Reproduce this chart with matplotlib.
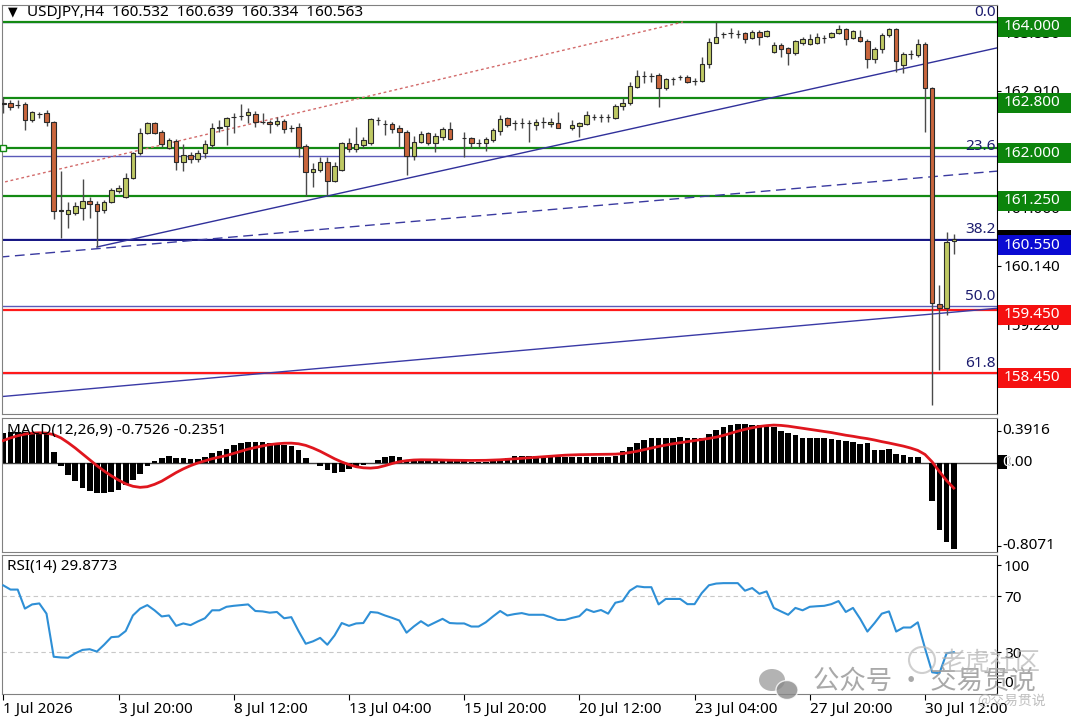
import numpy as np
import matplotlib.pyplot as plt
from matplotlib.patches import Rectangle, Ellipse

plt.rcParams['font.family'] = ['Noto Sans', 'DejaVu Sans']

nan = np.nan

# ---- price bars (USDJPY H4), one value per bar ----
opens = [162.718, 162.718, 162.690, 162.703, 162.450, 162.540, 162.560, 162.418, 161.010, 160.962,
         160.978, 161.057, 161.168, 161.120, 161.025, 161.152, 161.326, 161.231, 161.532, 161.927,
         162.244, 162.402, 162.260, 162.006, 162.117, 161.785, 161.896, 161.832, 161.927, 162.054,
         162.330, 162.355, 162.492, 162.510, 162.528, 162.544, 162.418, 162.418, 162.386, 162.434,
         162.323, 162.339, 162.038, 161.627, 161.658, 161.785, 161.484, 161.658, 162.086, 161.991,
         162.054, 162.086, 162.449, 162.386, 162.386, 162.323, 162.260, 161.880, 162.101, 162.244,
         162.086, 162.181, 162.307, nan, 162.165, 162.165, 162.086, 162.086, 162.133, 162.276,
         162.481, 162.402, 162.402, 162.402, 162.370, 162.418, 162.386, 162.402, nan, 162.323,
         162.355, 162.386, 162.497, 162.497, 162.497, 162.481, 162.671, 162.718, 162.972, 163.146,
         163.146, 163.161, 162.956, 163.098, 163.130, 163.130, 163.066, 163.066, 163.335, 163.668,
         163.810, 163.826, 163.815, 163.826, 163.747, 163.842, 163.778, 163.525, 163.636, 163.589,
         163.509, 163.668, 163.652, 163.668, 163.747, 163.763, 163.826, 163.889, 163.747, 163.763,
         163.699, 163.415, 163.573, 163.794, 163.889, 163.320, 163.494, 163.478, 163.652, 162.956,
         159.538, 159.475, 160.532]
highs = [162.813, 162.766, 162.766, 162.734, 162.592, 162.576, 162.608, 162.430, 161.643, 161.152,
         161.152, 161.516, 161.231, 161.168, 161.184, 161.373, 161.421, 161.611, 161.943, 162.323,
         162.418, 162.418, 162.291, 162.165, 162.149, 162.070, 161.943, 161.975, 162.133, 162.402,
         162.449, 162.497, 162.560, 162.703, 162.639, 162.592, 162.560, 162.449, 162.497, 162.465,
         162.370, 162.402, 162.070, 161.769, 161.864, 161.864, 161.785, 162.101, 162.165, 162.339,
         162.181, 162.481, 162.497, 162.449, 162.418, 162.370, 162.291, 162.196, 162.276, 162.260,
         162.244, 162.339, 162.418, nan, 162.260, 162.181, 162.149, 162.181, 162.323, 162.528,
         162.497, 162.449, 162.481, 162.449, 162.465, 162.497, 162.481, 162.576, nan, 162.449,
         162.418, 162.592, 162.544, 162.544, 162.544, 162.703, 162.797, 163.051, 163.241, 163.225,
         163.193, 163.193, 163.114, 163.130, 163.161, 163.161, 163.114, 163.446, 163.747, 164.000,
         163.842, 163.905, 163.873, 163.842, 163.873, 163.873, 163.873, 163.684, 163.668, 163.604,
         163.715, 163.763, 163.810, 163.826, 163.794, 163.842, 163.953, 163.905, 163.873, 163.873,
         163.731, 163.604, 163.826, 163.905, 163.905, 163.525, 163.557, 163.731, 163.684, 162.970,
         159.838, 160.677, 160.639]
lows = [162.560, 162.608, 162.640, 162.291, 162.418, 162.481, 162.355, 160.883, 160.582, 160.741,
        160.946, 160.868, 160.899, 160.440, 160.978, 161.136, 161.294, 161.215, 161.516, 161.896,
        162.228, 162.228, 162.022, 161.990, 161.658, 161.643, 161.769, 161.785, 161.848, 162.006,
        162.260, 162.054, 162.244, 162.449, 162.402, 162.339, 162.386, 162.244, 162.355, 162.244,
        162.260, 161.864, 161.247, 161.389, 161.627, 161.263, 161.468, 161.643, 161.943, 161.943,
        162.006, 162.054, 162.370, 162.212, 162.244, 162.022, 161.579, 161.816, 162.086, 162.054,
        161.943, 162.133, 162.133, nan, 161.864, 162.006, 162.022, 161.959, 162.101, 162.212,
        162.339, 162.291, 162.323, 162.101, 162.291, 162.323, 162.339, 162.318, nan, 162.291,
        162.181, 162.370, 162.449, 162.418, 162.418, 162.465, 162.608, 162.687, 162.956, 163.035,
        163.051, 162.655, 162.924, 163.003, 163.082, 163.035, 163.003, 163.051, 163.272, 163.668,
        163.747, 163.747, 163.747, 163.668, 163.731, 163.636, 163.763, 163.509, 163.446, 163.320,
        163.478, 163.636, 163.636, 163.652, 163.668, 163.747, 163.810, 163.636, 163.731, 163.684,
        163.272, 163.351, 163.509, 163.763, 163.209, 163.193, 163.415, 163.446, 162.260, 157.940,
        158.493, 159.364, 160.334]
closes = [162.703, 162.655, 162.680, 162.450, 162.576, 162.550, 162.418, 161.010, 161.020, 161.025,
          161.089, 161.168, 161.120, 161.010, 161.152, 161.342, 161.373, 161.532, 161.927, 162.244,
          162.402, 162.244, 162.070, 162.133, 161.785, 161.896, 161.832, 161.927, 162.070, 162.323,
          162.340, 162.481, 162.500, 162.516, 162.576, 162.418, 162.415, 162.386, 162.434, 162.307,
          162.325, 162.022, 161.627, 161.674, 161.785, 161.484, 161.722, 162.086, 161.991, 162.070,
          162.133, 162.465, 162.455, 162.390, 162.307, 162.260, 161.880, 162.101, 162.228, 162.086,
          162.196, 162.307, 162.149, nan, 162.160, 162.086, 162.090, 162.149, 162.291, 162.465,
          162.370, 162.400, 162.405, 162.398, 162.418, 162.420, 162.418, 162.323, nan, 162.370,
          162.402, 162.528, 162.500, 162.495, 162.500, 162.671, 162.718, 162.987, 163.146, 163.150,
          163.140, 162.956, 163.098, 163.100, 163.128, 163.051, 163.070, 163.335, 163.684, 163.763,
          163.815, 163.830, 163.810, 163.731, 163.842, 163.763, 163.858, 163.636, 163.573, 163.509,
          163.699, 163.731, 163.731, 163.763, 163.750, 163.826, 163.889, 163.731, 163.858, 163.699,
          163.415, 163.573, 163.794, 163.889, 163.383, 163.494, 163.490, 163.652, 162.956, 159.554,
          159.475, 160.519, 160.563]

# ---- MACD(12,26,9): histogram (main) and signal ----
macd_main = [0.28, 0.29, 0.29, 0.29, 0.29, 0.29, 0.28, 0.10, -0.03, -0.11,
             -0.17, -0.23, -0.26, -0.28, -0.28, -0.27, -0.25, -0.21, -0.16, -0.10,
             -0.03, 0.02, 0.045, 0.07, 0.05, 0.045, 0.035, 0.04, 0.06, 0.09,
             0.11, 0.135, 0.165, 0.185, 0.195, 0.197, 0.197, 0.19, 0.175, 0.165,
             0.158, 0.12, 0.045, 0.0, -0.03, -0.07, -0.095, -0.08, -0.06, -0.035,
             -0.02, 0.003, 0.03, 0.06, 0.07, 0.06, 0.02, 0.015, 0.015, 0.015,
             0.015, 0.015, 0.015, 0.015, 0.015, 0.012, 0.012, 0.012, 0.015, 0.02,
             0.05, 0.065, 0.07, 0.07, 0.068, 0.06, 0.055, 0.055, 0.055, 0.055,
             0.055, 0.055, 0.055, 0.055, 0.055, 0.07, 0.113, 0.152, 0.19, 0.216,
             0.235, 0.235, 0.235, 0.235, 0.242, 0.235, 0.235, 0.235, 0.274, 0.313,
             0.339, 0.355, 0.365, 0.361, 0.358, 0.355, 0.355, 0.339, 0.30, 0.281,
             0.258, 0.235, 0.235, 0.235, 0.235, 0.226, 0.216, 0.203, 0.194, 0.177,
             0.187, 0.119, 0.123, 0.129, 0.087, 0.071, 0.055, 0.055, -0.004, -0.355,
             -0.623, -0.735, -0.8071]
macd_signal = [0.21, 0.235, 0.255, 0.27, 0.28, 0.283, 0.28, 0.265, 0.235, 0.19,
               0.14, 0.085, 0.03, -0.025, -0.075, -0.12, -0.16, -0.195, -0.218, -0.228,
               -0.222, -0.2, -0.17, -0.13, -0.09, -0.055, -0.025, 0.0, 0.02, 0.04,
               0.055, 0.07, 0.09, 0.11, 0.13, 0.145, 0.16, 0.172, 0.18, 0.185,
               0.186, 0.18, 0.165, 0.14, 0.11, 0.075, 0.04, 0.01, -0.015, -0.035,
               -0.045, -0.048, -0.042, -0.025, -0.005, 0.012, 0.022, 0.028, 0.03, 0.03,
               0.029, 0.027, 0.026, 0.025, 0.024, 0.024, 0.024, 0.025, 0.027, 0.03,
               0.034, 0.039, 0.044, 0.05, 0.055, 0.06, 0.065, 0.07, 0.073, 0.076,
               0.078, 0.079, 0.08, 0.081, 0.081, 0.083, 0.088, 0.098, 0.11, 0.125,
               0.14, 0.155, 0.168, 0.18, 0.19, 0.2, 0.21, 0.22, 0.23, 0.242,
               0.258, 0.278, 0.298, 0.315, 0.33, 0.342, 0.35, 0.355, 0.352, 0.345,
               0.335, 0.325, 0.315, 0.306, 0.295, 0.285, 0.272, 0.26, 0.25, 0.238,
               0.228, 0.215, 0.2, 0.187, 0.172, 0.158, 0.14, 0.118, 0.08, 0.01,
               -0.08, -0.165, -0.2351]

# ---- RSI(14) ----
rsi = [77.6, 74.6, 74.6, 61.0, 64.0, 64.7, 57.4, 26.6, 26.1, 25.9,
       29.1, 31.5, 32.0, 30.3, 35.2, 40.6, 41.0, 45.0, 56.1, 61.0,
       63.5, 59.8, 55.4, 56.1, 48.7, 50.4, 49.2, 51.8, 54.1, 59.8,
       59.8, 62.3, 63.0, 63.5, 64.0, 59.3, 59.0, 58.1, 58.6, 54.1,
       54.9, 45.0, 35.9, 37.6, 40.1, 35.2, 41.8, 50.7, 48.7, 50.4,
       50.7, 58.6, 58.1, 56.1, 54.4, 52.5, 43.8, 48.2, 52.0, 48.7,
       51.2, 53.7, 50.7, 50.4, 50.4, 48.2, 48.2, 51.2, 55.4, 59.3,
       56.1, 57.1, 57.8, 56.6, 56.6, 56.6, 54.9, 52.9, 52.9, 54.4,
       55.6, 60.5, 58.6, 60.0, 57.4, 65.2, 66.4, 73.8, 77.0, 76.3,
       76.3, 64.0, 67.9, 67.9, 67.9, 64.2, 64.2, 72.1, 77.7, 78.9,
       79.2, 79.2, 79.2, 73.8, 75.7, 71.6, 73.3, 61.5, 59.0, 56.6,
       61.5, 59.8, 62.3, 62.7, 63.0, 64.2, 66.4, 58.6, 61.5, 53.7,
       44.6, 50.7, 57.4, 59.0, 44.6, 47.5, 47.5, 51.2, 32.7, 15.5,
       14.8, 29.1, 29.8773]

date_labels = ['1 Jul 2026', '3 Jul 20:00', '8 Jul 12:00', '13 Jul 04:00', '15 Jul 20:00',
               '20 Jul 12:00', '23 Jul 04:00', '27 Jul 20:00', '30 Jul 12:00']
date_bars = [0, 16, 32, 48, 64, 80, 96, 112, 128]

# horizontal support / resistance levels
green_levels = [164.000, 162.800, 162.000, 161.250]
red_levels = [159.450, 158.450]
blue_levels = [160.550]
price_ticks = [163.830, 162.910, 161.980, 161.060, 160.140, 159.220, 158.300]
bid_price = 160.563

# fibonacci retracement
fib_high, fib_low = 164.000, 155.000
fib_levels = [0.0, 23.6, 38.2, 50.0, 61.8]

# trend lines: (bar, price) anchors
red_dotted = ([-0.5, 94.4], [161.45, 164.00])
blue_upper = ([13, 138.0], [160.44, 163.59])
blue_dashed = ([-0.5, 138.0], [160.28, 161.64])
blue_lower = ([-0.5, 138.0], [158.07, 159.47])

# ---------------------------------------------------------------
W, H = 1080, 720
fig = plt.figure(figsize=(10.8, 7.2), dpi=100)
fig.patch.set_facecolor('white')

def pane(top, bottom):
    return fig.add_axes([2 / W, 1 - bottom / H, 995 / W, (bottom - top) / H])

ax_p = pane(5, 414)
ax_m = pane(418, 552)
ax_r = pane(555, 694)

n = len(opens)
x = np.arange(n)
xlim = (-0.18, 138.0)
for ax in (ax_p, ax_m, ax_r):
    ax.set_xlim(*xlim)
    for s in ('left', 'top', 'bottom'):
        ax.spines[s].set_color('#808080')
    ax.spines['right'].set_color('black')
    ax.yaxis.tick_right()
    ax.tick_params(axis='y', length=3, pad=2, labelsize=11, colors='black')
    ax.tick_params(axis='x', length=0, labelbottom=False)

# ---------------- price panel ----------------
ax_p.set_ylim(157.797, 164.269)
px = (164.269 - 157.797) / 409.0          # price per pixel
yax = ax_p.get_yaxis_transform()

bull_c, bear_c = '#bfc964', '#c9663d'
for i in range(n):
    o, h, l, c = opens[i], highs[i], lows[i], closes[i]
    if np.isnan(o):
        continue
    ax_p.vlines(i, l, h, color='#4a4a4a', lw=1, zorder=3)
    lo, hi = min(o, c), max(o, c)
    ax_p.add_patch(Rectangle((i - 0.31, lo), 0.62, max(hi - lo, 0.004),
                             facecolor=bull_c if c >= o else bear_c,
                             edgecolor='#2a2a2a', lw=0.8, zorder=4))

for lv in green_levels:
    ax_p.axhline(lv, color='#138a13', lw=1.6, zorder=2)
for lv in red_levels:
    ax_p.axhline(lv, color='#ff1a1a', lw=1.6, zorder=2)
for lv in blue_levels:
    ax_p.axhline(lv, color='#141482', lw=1.4, zorder=2)

for lvl in fib_levels:
    p = fib_high - (fib_high - fib_low) * lvl / 100.0
    ax_p.axhline(p, color='#5a5ab8', lw=1, zorder=1.8)
    ax_p.text(0.9985, p + 2 * px, f'{lvl:.1f}', transform=yax, ha='right', va='bottom',
              fontsize=11, color='#1c1c6e', zorder=6)

ax_p.plot(*red_dotted, color='#d26a6a', lw=1, ls=(0, (2, 2)), zorder=2)
ax_p.plot(*blue_upper, color='#30309a', lw=1, zorder=2)
ax_p.plot(*blue_dashed, color='#3a3aa0', lw=1, ls=(0, (7, 4)), zorder=2)
ax_p.plot(*blue_lower, color='#3a3aa6', lw=1, zorder=2)
ax_p.plot([0], [162.0], marker='s', ms=4, mfc='white', mec='#138a13', mew=1, zorder=5,
          clip_on=False)

ax_p.set_yticks(price_ticks)
ax_p.set_yticklabels([f'{t:.3f}' for t in price_ticks])

bx0, bw = 1.001, 0.0735
def level_box(price, color, top_px=5, bot_px=15, text=True):
    ax_p.add_patch(Rectangle((bx0, price - bot_px * px), bw, (top_px + bot_px) * px,
                             transform=yax, facecolor=color, edgecolor='none',
                             clip_on=False, zorder=10))
    if text:
        ax_p.text(1.0065, price - 5 * px, f'{price:.3f}', transform=yax, ha='left',
                  va='center', fontsize=11, color='white', zorder=11, clip_on=False)

level_box(bid_price, 'black', top_px=9, bot_px=10, text=False)
for lv in green_levels:
    level_box(lv, '#0c840c')
for lv in blue_levels:
    level_box(lv, '#0a0ad2')
for lv in red_levels:
    level_box(lv, '#f51010')

ax_p.text(0.0251, 0.983, 'USDJPY,H4  160.532  160.639  160.334  160.563', transform=ax_p.transAxes,
          ha='left', va='center', fontsize=11, color='black')
ax_p.text(0.0055, 0.982, '\u25bc', transform=ax_p.transAxes, ha='left', va='center',
          fontsize=9, color='black', family='DejaVu Sans')

# ---------------- MACD panel ----------------
ax_m.set_ylim(-0.8333, 0.4213)
ax_m.bar(x, macd_main, width=0.78, color='black', zorder=2)
ax_m.plot(x, macd_signal, color='#e0161e', lw=2, zorder=3)
ax_m.axhline(0, color='#404040', lw=1, zorder=1)
ax_m.set_yticks([0.30, 0.0, -0.777])
ax_m.set_yticklabels(['', '', ''])
mt = ax_m.get_yaxis_transform()
lab_x = 1.0055
ax_m.text(lab_x, 0.30, '0.3916', transform=mt, ha='left', va='center', fontsize=11,
          color='black', clip_on=False)
ax_m.text(lab_x, -0.777, '-0.8071', transform=mt, ha='left', va='center', fontsize=11,
          color='black', clip_on=False)
ax_m.text(lab_x, 0.0, '0.00', transform=mt, ha='left', va='center', fontsize=11,
          color='black', clip_on=False, zorder=9)
ax_m.add_patch(Rectangle((1.001, -0.058), 0.0092, 0.13, transform=mt, facecolor='black',
                         edgecolor='none', clip_on=False, zorder=10))
ax_m.text(lab_x, 0.0, '0', transform=mt, ha='left', va='center', fontsize=11,
          color='white', zorder=11, clip_on=False)
ax_m.text(0.005, 0.903, 'MACD(12,26,9) -0.7526 -0.2351', transform=ax_m.transAxes,
          ha='left', va='center', fontsize=11, color='black', zorder=5)

# ---------------- RSI panel ----------------
ax_r.set_ylim(0, 99.3)
for lv in (70, 30):
    ax_r.axhline(lv, color='#c8c8c8', lw=0.8, ls=(0, (4, 3)), zorder=1)
ax_r.plot(x, rsi, color='#2e8fd6', lw=1.5, zorder=3)
ax_r.set_yticks([92.1, 70, 30, 8.6])
ax_r.set_yticklabels(['100', '70', '30', '0'])
ax_r.text(0.005, 0.914, 'RSI(14) 29.8773', transform=ax_r.transAxes,
          ha='left', va='center', fontsize=11, color='black')
ax_r.set_xticks(date_bars)
ax_r.set_xticklabels(date_labels, ha='left')
ax_r.tick_params(axis='x', length=4, pad=2, labelsize=11, labelbottom=True, direction='out')

# ---------------- watermark ----------------
cjk = ['Noto Sans CJK SC', 'DejaVu Sans']
fig.add_artist(Ellipse((772 / W, 1 - 680 / H), 26 / W, 22 / H, transform=fig.transFigure,
                       facecolor='#9a9a9a', edgecolor='none', alpha=0.75, zorder=20))
fig.add_artist(Ellipse((787 / W, 1 - 690 / H), 22 / W, 19 / H, transform=fig.transFigure,
                       facecolor='#8a8a8a', edgecolor='white', lw=1, alpha=0.8, zorder=21))
fig.text(924 / W, 1 - 682 / H, '公众号 · 交易贯说', family=cjk, fontsize=19,
         color='#9a9a9a', alpha=0.85, ha='center', va='center', zorder=22)
fig.text(990 / W, 1 - 662 / H, '老虎社区', family=cjk, fontsize=18,
         color='#b4b4b4', alpha=0.7, ha='center', va='center', zorder=22)
fig.add_artist(Ellipse((922 / W, 1 - 660 / H), 26 / W, 26 / H, transform=fig.transFigure,
                       facecolor='none', edgecolor='#bbbbbb', lw=1.5, alpha=0.7, zorder=22))
fig.text(1012 / W, 1 - 701 / H, '@交易贯说', family=cjk, fontsize=10,
         color='#b0b0b0', alpha=0.8, ha='center', va='center', zorder=22)

fig.savefig('out.png', dpi=100)
